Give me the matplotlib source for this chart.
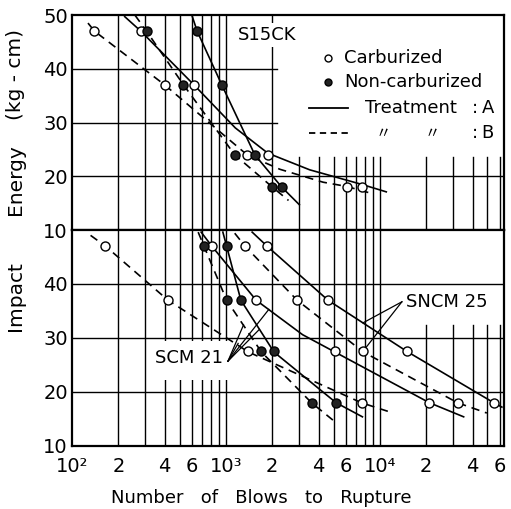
import numpy as np
import matplotlib.pyplot as plt
from matplotlib.patches import Rectangle

# impact energy levels (kg-cm)
top_energy = [47, 37, 24, 18]
bottom_energy = [47, 37, 27.5, 18]

# number of blows to rupture at each energy level
s15ck_carb_a = [280, 620, 1870, 7600]
s15ck_carb_b = [140, 400, 1370, 6100]
s15ck_non_a = [650, 940, 1540, 2300]
s15ck_non_b = [305, 530, 1140, 2000]

scm21_carb_a = [810, 1570, 5100, 21000]
scm21_carb_b = [165, 420, 1400, 7600]
scm21_non_a = [1010, 1250, 2050, 5200]
scm21_non_b = [720, 1010, 1700, 3600]
sncm25_carb_a = [1850, 4600, 15000, 55000]
sncm25_carb_b = [1330, 2900, 7800, 32000]

# hand drawn curves (blows, energy)
s15ck_carb_a_cn = [220, 280, 620, 1150, 1870, 3500, 7600, 11000]
s15ck_carb_a_ce = [49.7, 47, 37, 29, 24.3, 21.2, 18.5, 17.1]
s15ck_carb_b_cn = [127, 140, 400, 1370, 2240, 4270, 6100, 8600]
s15ck_carb_b_ce = [48.5, 47, 37, 24, 21.3, 18.9, 18.1, 16.9]
s15ck_non_a_cn = [600, 650, 940, 1540, 2300, 3000]
s15ck_non_a_ce = [50, 47, 37, 24, 18, 14.7]
s15ck_non_b_cn = [256, 305, 530, 1140, 2000, 2550]
s15ck_non_b_ce = [50, 47, 37, 24, 18, 15.5]

scm21_carb_a_cn = [690, 810, 1570, 3150, 5100, 21000, 35000]
scm21_carb_a_ce = [49.6, 47, 37, 30.6, 27.4, 18, 15.4]
scm21_carb_b_cn = [132, 165, 420, 1400, 7600, 11600]
scm21_carb_b_ce = [49, 47, 37, 27.4, 18, 16.3]
scm21_non_a_cn = [955, 1010, 1250, 2050, 5200, 7700]
scm21_non_a_ce = [49.6, 47, 37, 27.4, 18, 15.4]
scm21_non_b_cn = [660, 720, 1010, 1700, 3600, 4950]
scm21_non_b_ce = [49.6, 47, 37, 27.4, 18, 14.8]
sncm25_carb_a_cn = [1480, 1850, 4600, 15000, 55000, 62000]
sncm25_carb_a_ce = [49.6, 47, 37, 27.5, 18, 17.2]
sncm25_carb_b_cn = [1140, 1330, 2900, 7800, 32000, 49500]
sncm25_carb_b_ce = [49.4, 47, 37, 27.4, 18, 16.1]

xticks = [100, 200, 400, 600, 1000, 2000, 4000, 6000, 10000, 20000, 40000, 60000]
xticklabels = ["10²", "2", "4", "6", "10³", "2", "4", "6", "10⁴", "2", "4", "6"]

XMAX = 64000
DASH = (0, (5, 3.5))

fig = plt.figure(figsize=(5.11, 5.09), dpi=100)
ax_top = fig.add_axes([0.1409, 0.5481, 0.8454, 0.4224])
ax_bot = fig.add_axes([0.1409, 0.1238, 0.8454, 0.4244])


def xfrac(x):
    return (np.log10(x) - 2) / (np.log10(XMAX) - 2)


def setup(ax, yticks, clear_x, clear_y):
    ax.set_xscale("log")
    ax.set_xlim(100, XMAX)
    ax.set_ylim(10, 50)
    ax.xaxis.set_minor_locator(plt.NullLocator())
    ax.set_yticks(yticks)
    ax.tick_params(length=0, labelsize=14, pad=3)
    for s in ax.spines.values():
        s.set_linewidth(1.6)
    # log paper grid, some lines left out behind the labels
    for d in [2, 3, 4]:
        for k in range(1, 10):
            x = k * 10 ** d
            if x <= 100 or x >= XMAX:
                continue
            top = 1 if x <= clear_x else clear_y
            ax.axvline(x, ymax=top, color="k", lw=1.0, zorder=1)


setup(ax_top, [10, 20, 30, 40, 50], 2000, 0.34)
setup(ax_bot, [10, 20, 30, 40], 10000, 0.56)
ax_top.set_xticks([])
ax_top.axhline(20, color="k", lw=1.0, zorder=1)
for y in [30, 40]:
    ax_top.axhline(y, xmax=xfrac(2150), color="k", lw=1.0, zorder=1)
for y in [20, 30, 40]:
    ax_bot.axhline(y, color="k", lw=1.0, zorder=1)

ax_bot.set_xticks(xticks)
ax_bot.set_xticklabels(xticklabels)
ax_bot.tick_params(axis="x", pad=8)


def curve(ax, n, e, ls):
    ax.plot(n, e, color="k", lw=1.2, ls=ls, zorder=4)


def points(ax, n, e, filled):
    ax.plot(n, e, "o", ms=6.5, mec="k", mew=1.0,
            mfc="#222222" if filled else "white", zorder=5)


curve(ax_top, s15ck_carb_a_cn, s15ck_carb_a_ce, "-")
curve(ax_top, s15ck_carb_b_cn, s15ck_carb_b_ce, DASH)
curve(ax_top, s15ck_non_a_cn, s15ck_non_a_ce, "-")
curve(ax_top, s15ck_non_b_cn, s15ck_non_b_ce, DASH)
points(ax_top, s15ck_carb_a, top_energy, False)
points(ax_top, s15ck_carb_b, top_energy, False)
points(ax_top, s15ck_non_a, top_energy, True)
points(ax_top, s15ck_non_b, top_energy, True)

curve(ax_bot, scm21_carb_a_cn, scm21_carb_a_ce, "-")
curve(ax_bot, scm21_carb_b_cn, scm21_carb_b_ce, DASH)
curve(ax_bot, scm21_non_a_cn, scm21_non_a_ce, "-")
curve(ax_bot, scm21_non_b_cn, scm21_non_b_ce, DASH)
curve(ax_bot, sncm25_carb_a_cn, sncm25_carb_a_ce, "-")
curve(ax_bot, sncm25_carb_b_cn, sncm25_carb_b_ce, DASH)
points(ax_bot, scm21_carb_a, bottom_energy, False)
points(ax_bot, scm21_carb_b, bottom_energy, False)
points(ax_bot, scm21_non_a, bottom_energy, True)
points(ax_bot, scm21_non_b, bottom_energy, True)
points(ax_bot, sncm25_carb_a, bottom_energy, False)
points(ax_bot, sncm25_carb_b, bottom_energy, False)

# steel labels with pointer lines
white = dict(facecolor="white", edgecolor="none", pad=2)
ax_top.text(1850, 46.3, "S15CK", fontsize=13, ha="center", va="center",
            bbox=white, zorder=3)
# cleared patch of grid paper behind the SCM 21 label
ax_bot.add_patch(Rectangle((330, 22.3), 1030 - 330, 7.2, facecolor="white",
                           edgecolor="none", zorder=2))
ax_bot.text(960, 26.3, "SCM 21", fontsize=13, ha="right", va="center",
            zorder=3)
for xe, ye in [(1200, 29.0), (1300, 32.4), (1650, 31.6), (1900, 35.3)]:
    ax_bot.plot([1030, xe], [25.7, ye], color="k", lw=0.9, zorder=4)
ax_bot.text(14800, 36.7, "SNCM 25", fontsize=13, ha="left", va="center",
            bbox=white, zorder=3)
for xe, ye in [(7770, 32.8), (8000, 28.0)]:
    ax_bot.plot([13900, xe], [36.7, ye], color="k", lw=0.9, zorder=4)

# legend drawn by hand in the cleared box
tr = ax_top.transAxes
ax_top.plot([0.593], [0.80], "o", ms=5, mfc="white", mec="k", transform=tr)
ax_top.plot([0.593], [0.688], "o", ms=5, mfc="#222222", mec="k", transform=tr)
ax_top.plot([0.549, 0.639], [0.567, 0.567], color="k", lw=1.3, transform=tr)
ax_top.plot([0.549, 0.639], [0.451, 0.451], color="k", lw=1.3,
            ls=(0, (3.5, 2.5)), transform=tr)
leg = dict(fontsize=13, va="center", transform=tr)
ax_top.text(0.63, 0.80, "Carburized", **leg)
ax_top.text(0.63, 0.688, "Non-carburized", **leg)
ax_top.text(0.678, 0.567, "Treatment", **leg)
ax_top.text(0.925, 0.567, ":", **leg)
ax_top.text(0.948, 0.567, "A", **leg)
for xd in [0.72, 0.833]:
    ax_top.text(xd, 0.451, "〃", fontsize=11, va="center", ha="center",
                transform=tr, family=["Noto Sans CJK JP", "DejaVu Sans"])
ax_top.text(0.925, 0.451, ":", **leg)
ax_top.text(0.948, 0.451, "B", **leg)

# axis titles
fig.text(0.511, 0.022, "Number   of   Blows   to   Rupture", fontsize=13,
         ha="center", va="center")
for txt, yf in [("Impact", 0.418), ("Energy", 0.648), ("(kg - cm)", 0.853)]:
    fig.text(0.03, yf, txt, fontsize=14.5, rotation=90, ha="center",
             va="center")

fig.savefig("out.png", dpi=100)
